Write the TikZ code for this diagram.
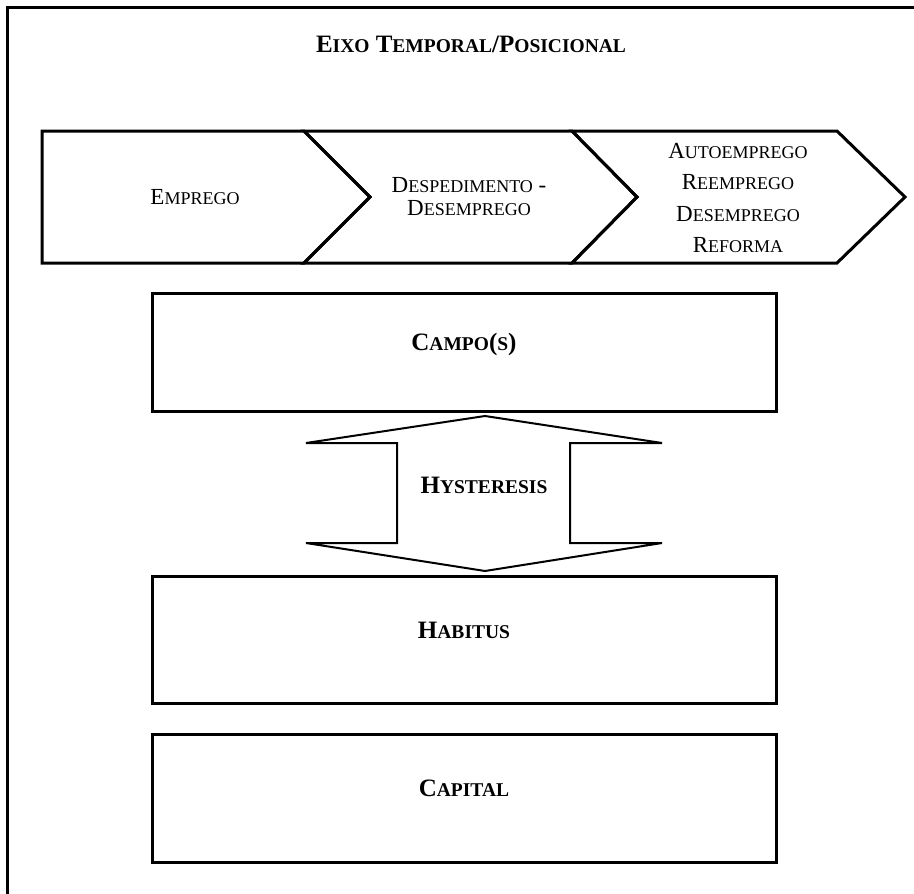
\documentclass[tikz,border=0pt]{standalone}
\usepackage{fontspec}
\setmainfont{Liberation Serif}
\newcommand\smc[1]{{\fontsize{18}{18}\selectfont #1}}
\newcommand\bsc[1]{{\fontsize{19.5}{19.5}\selectfont #1}}

\begin{document}
\begin{tikzpicture}[x=1pt,y=-1pt,
	box/.style={draw,line width=3pt,minimum width=624pt,inner sep=0pt,
		font=\fontsize{25}{25}\selectfont\bfseries,text height=10pt,text depth=13pt},
	lbl/.style={font=\fontsize{23}{23}\selectfont,align=center,inner sep=0pt},
	blbl/.style={font=\fontsize{25}{25}\selectfont\bfseries,align=center,inner sep=0pt}]
	\useasboundingbox (0,0) rectangle (914,894);
	\draw[line width=3pt] (7,894) -- (7,7) -- (914,7);
	\node[blbl] (titulo) at (471,44) {E\bsc{IXO} T\bsc{EMPORAL}/P\bsc{OSICIONAL}};
	
	% eixo temporal
	\draw[line width=3pt] (42,131) -- (304,131) -- (370,197) -- (304,263) -- (42,263) -- cycle;
	\draw[line width=3pt] (304,131) -- (572,131) -- (637,197) -- (572,263) -- (304,263) -- (370,197) -- cycle;
	\draw[line width=3pt] (572,131) -- (837,131) -- (905,197) -- (837,263) -- (572,263) -- (637,197) -- cycle;
	\node[lbl] (emprego) at (195,197) {E\smc{MPREGO}};
	\node[lbl] (despedimento) at (469,197) {D\smc{ESPEDIMENTO} -\\D\smc{ESEMPREGO}};
	\node[lbl,font=\fontsize{23}{31.5}\selectfont] (saida) at (738,198) {A\smc{UTOEMPREGO}\\R\smc{EEMPREGO}\\D\smc{ESEMPREGO}\\R\smc{EFORMA}};
	
	\node[box,minimum height=118pt] (campo) at (464,352) {C\bsc{AMPO}(\bsc{S})};
	\node[box,minimum height=127pt] (habitus) at (464,639.5) {H\bsc{ABITUS}};
	\node[box,minimum height=128pt] (capital) at (464,798) {C\bsc{APITAL}};
	
	% seta dupla
	\draw[line width=2pt] (485,416) -- (662,443) -- (570,443) -- (570,543) -- (662,543) -- (485,571)
		-- (306,543) -- (397,543) -- (397,443) -- (306,443) -- cycle;
	\node[blbl] (hysteresis) at (484,485) {H\bsc{YSTERESIS}};
\end{tikzpicture}
\end{document}
